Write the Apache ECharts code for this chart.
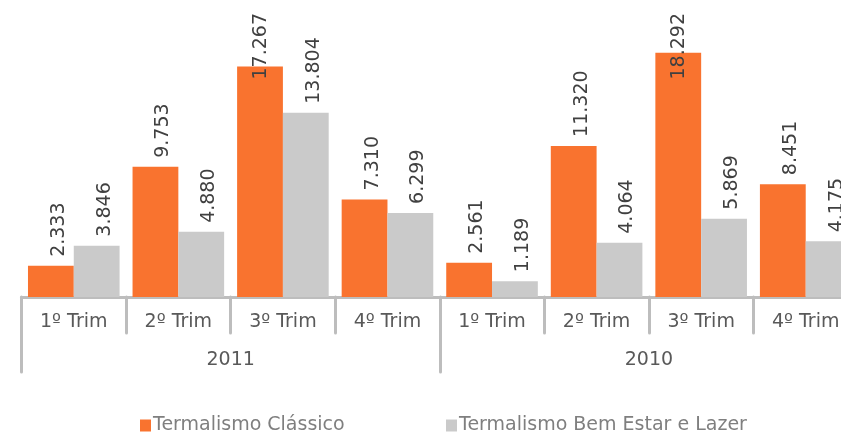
<!DOCTYPE html>
<html>
<head>
<meta charset="utf-8">
<script src="https://cdn.jsdelivr.net/npm/echarts@6/dist/echarts.min.js"></script>
<style>
  html, body { margin: 0; padding: 0; background: #ffffff; }
  #chart { width: 841px; height: 433px; }
</style>
</head>
<body>
<div id="chart"></div>
<script>
// Quarterly figures per thermal spa segment
var quarters = ['1º Trim', '2º Trim', '3º Trim', '4º Trim', '1º Trim', '2º Trim', '3º Trim', '4º Trim'];
var years = ['2011', '2010'];
var classico = [2333, 9753, 17267, 7310, 2561, 11320, 18292, 8451];
var bemEstar = [3846, 4880, 13804, 6299, 1189, 4064, 5869, 4175];
var seriesNames = ['Termalismo Clássico', 'Termalismo Bem Estar e Lazer'];

var ORANGE = '#F9732F';
var GREY = '#CACACA';
var AXIS_GREY = '#BDBDBD';
var FONT = '"DejaVu Sans", Verdana, sans-serif';
var FONT_SIZE = 19;
var LABEL_TOP = 13;

// "2333" -> "2.333"
function fmt(v) {
  var t = Math.floor(v / 1000);
  var r = String(v % 1000);
  while (r.length < 3) r = '0' + r;
  return t + '.' + r;
}

var valueLabel = {
  show: true,
  position: 'top',
  distance: 9,
  rotate: 90,
  align: 'left',
  verticalAlign: 'middle',
  color: '#404040',
  fontFamily: FONT,
  fontSize: FONT_SIZE,
  formatter: function (p) { return fmt(p.value); }
};

// vertical value labels sit a little right of the bar centre
// (the text is rotated, so its local dy points right on screen);
// tall ones are pulled down so they stay inside the chart area
function keepInside(p) {
  var r = p.labelRect;
  if (r.y < LABEL_TOP) return { y: LABEL_TOP + r.height, dy: 1 };
  return { dy: 8 };
}

function legendFor(name, left) {
  return {
    data: [name], left: left, top: 416, padding: 0,
    itemWidth: 11, itemHeight: 12, itemGap: 0,
    icon: 'rect',
    textStyle: { color: '#7F7F7F', fontFamily: FONT, fontSize: FONT_SIZE, padding: [0, 0, 0, -3] }
  };
}

var chart = echarts.init(document.getElementById('chart'), null, { renderer: 'canvas' });
chart.setOption({
  animation: false,
  grid: { left: 21.5, right: -17, top: 30, bottom: 136, outerBoundsMode: 'none', containLabel: false },
  legend: [legendFor(seriesNames[0], 140), legendFor(seriesNames[1], 446)],
  xAxis: [
    {
      type: 'category',
      data: quarters,
      position: 'bottom',
      axisLine: { show: true, onZero: false, lineStyle: { color: AXIS_GREY, width: 3 } },
      axisTick: { show: true, interval: 0, length: 36, lineStyle: { color: AXIS_GREY, width: 3, cap: 'round' } },
      axisLabel: { interval: 0, margin: 16, color: '#595959', fontFamily: FONT, fontSize: FONT_SIZE }
    },
    {
      type: 'category',
      data: years,
      position: 'bottom',
      axisLine: { show: false, onZero: false },
      axisTick: { show: true, interval: 0, length: 75, lineStyle: { color: AXIS_GREY, width: 3, cap: 'round' } },
      axisLabel: { interval: 0, margin: 54, color: '#595959', fontFamily: FONT, fontSize: FONT_SIZE }
    }
  ],
  yAxis: {
    type: 'value',
    min: 0,
    max: 20000,
    show: false,
    splitLine: { show: false }
  },
  series: [
    {
      name: seriesNames[0],
      type: 'bar',
      xAxisIndex: 0,
      data: classico,
      barGap: '0%',
      barCategoryGap: '12.4%',
      itemStyle: { color: ORANGE },
      label: valueLabel,
      labelLayout: keepInside
    },
    {
      name: seriesNames[1],
      type: 'bar',
      xAxisIndex: 0,
      data: bemEstar,
      barGap: '0%',
      barCategoryGap: '12.4%',
      itemStyle: { color: GREY },
      label: valueLabel,
      labelLayout: keepInside
    }
  ]
});
</script>
</body>
</html>
